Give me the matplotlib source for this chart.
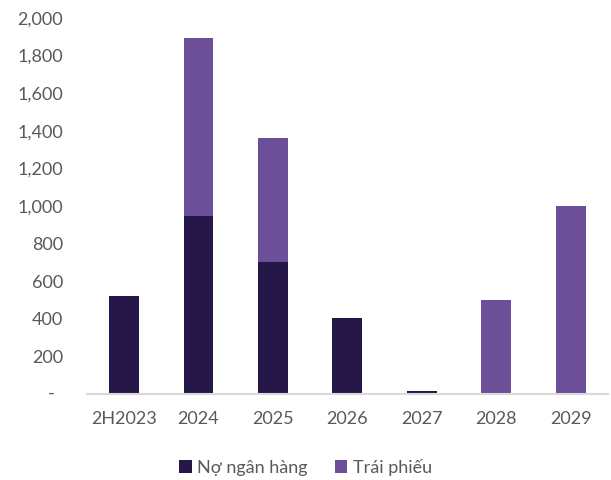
import matplotlib.pyplot as plt
from matplotlib.ticker import FuncFormatter
from matplotlib.transforms import blended_transform_factory

plt.rcParams['font.family'] = ['Lato', 'DejaVu Sans']

# debt maturity schedule (billion VND)
years = ['2H2023', '2024', '2025', '2026', '2027', '2028', '2029']
bank_loans = [520, 945, 700, 405, 15, 0, 0]
bonds = [0, 950, 660, 0, 0, 500, 1000]

dark = '#251848'
purple = '#6b5099'
grey = '#595959'

fig = plt.figure(figsize=(6.11, 4.8), dpi=100)
ax = fig.add_axes([0.142, 0.179, 0.853, 0.7835])

x = range(len(years))
ax.bar(x, bank_loans, width=0.4, color=dark, label='Nợ ngân hàng')
ax.bar(x, bonds, width=0.4, bottom=bank_loans, color=purple, label='Trái phiếu')

ax.set_xlim(-0.5, len(years) - 0.5)
ax.set_ylim(0, 2000)
ax.set_yticks(range(0, 2001, 200))
ax.yaxis.set_major_formatter(FuncFormatter(lambda v, p: '' if v == 0 else f'{v:,.0f}'))
ax.set_xticks(list(x))
ax.set_xticklabels(years)

# accounting-style zero: a dash, indented from the right edge of the labels
trans = blended_transform_factory(fig.transFigure, ax.transData)
ax.text(51 / 611, 0, '-', transform=trans, ha='center', va='center',
        fontsize=13, color=grey)

for s in ['top', 'right', 'left']:
    ax.spines[s].set_visible(False)
ax.spines['bottom'].set_color('#d9d9d9')
ax.spines['bottom'].set_linewidth(1.5)
ax.tick_params(axis='both', length=0, labelsize=13, labelcolor=grey)
ax.tick_params(axis='y', pad=17)
ax.tick_params(axis='x', pad=12)

fig.legend(loc='lower center', bbox_to_anchor=(0.5, -0.025), ncol=2, frameon=False,
           fontsize=13, labelcolor=grey, handlelength=0.7, handleheight=0.7,
           handletextpad=0.3, columnspacing=1.5)

fig.savefig('out.png', dpi=100)
